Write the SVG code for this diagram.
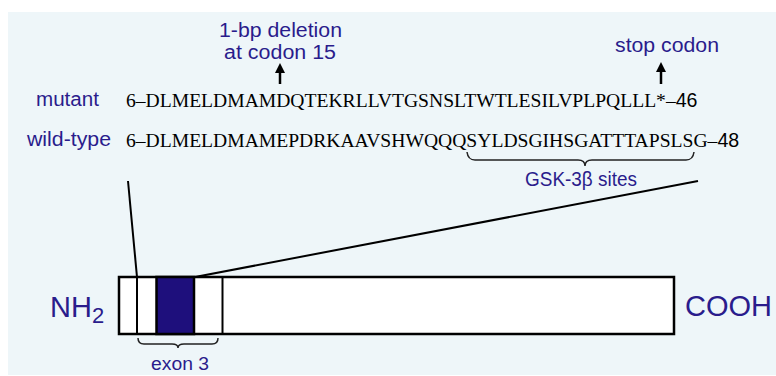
<svg xmlns="http://www.w3.org/2000/svg" width="776" height="376" viewBox="0 0 776 376">
<defs>
<marker id="ah" viewBox="0 0 10 10" refX="5" refY="5" markerWidth="10" markerHeight="10" markerUnits="userSpaceOnUse" orient="auto">
<path d="M0,0 L10,5 L0,10 Z" fill="#000"/>
</marker>
<style>
.lbl{font-family:"Liberation Sans",Arial,sans-serif;fill:#2a1c8c;}
.seq{font-family:"Liberation Serif","Times New Roman",serif;fill:#000;font-size:19.6px;}
.num{font-family:"Liberation Sans",Arial,sans-serif;}
.ln{stroke:#000;fill:none;stroke-width:2;}
.br{stroke:#222;fill:none;stroke-width:1.5;}
</style>
</defs>
<rect x="8" y="12" width="768" height="363" fill="#eef6f9"/>

<g id="labels">
<text class="lbl" x="280.5" y="37" font-size="20" text-anchor="middle" textLength="123" lengthAdjust="spacingAndGlyphs">1-bp deletion</text>
<text class="lbl" x="280" y="59" font-size="20" text-anchor="middle" textLength="112" lengthAdjust="spacingAndGlyphs">at codon 15</text>
<text class="lbl" x="667" y="52" font-size="20" text-anchor="middle" textLength="104" lengthAdjust="spacingAndGlyphs">stop codon</text>
<text class="lbl" x="36" y="106" font-size="20" textLength="63" lengthAdjust="spacingAndGlyphs">mutant</text>
<text class="lbl" x="27" y="146" font-size="20" textLength="84" lengthAdjust="spacingAndGlyphs">wild-type</text>
<text class="lbl" x="581" y="186" font-size="20" text-anchor="middle" textLength="112" lengthAdjust="spacingAndGlyphs">GSK-3β sites</text>
<text class="lbl" x="180" y="370" font-size="18" text-anchor="middle" textLength="58" lengthAdjust="spacingAndGlyphs">exon 3</text>
<text class="lbl" x="50" y="317" font-size="29">NH<tspan font-size="22" dy="6">2</tspan></text>
<text class="lbl" x="685" y="316" font-size="29">COOH</text>
</g>

<g id="mutant-seq">
<text class="seq" x="126" y="107">6–DLMELDMAMDQTEKRLLVTGSNSLTWTLESILVPLPQLLL*–<tspan class="num">46</tspan></text>
</g>
<g id="wildtype-seq">
<text class="seq" x="126" y="147">6–DLMELDMAMEPDRKAAVSHWQQQSYLDSGIHSGATTTAPSLSG–<tspan class="num">48</tspan></text>
</g>

<g id="protein">
<rect x="119" y="277" width="555" height="57" fill="#fff" stroke="#000" stroke-width="2.5"/>
<rect x="156.5" y="277" width="37.5" height="57" fill="#1e0f7c" stroke="#000" stroke-width="2.5"/>
<line class="ln" x1="137" y1="277" x2="137" y2="334"/>
<line class="ln" x1="222.5" y1="277" x2="222.5" y2="334"/>
</g>

<g id="connectors">
<line x1="280" y1="84" x2="280" y2="68" stroke="#000" stroke-width="2.5" marker-end="url(#ah)"/>
<line x1="661" y1="84" x2="661" y2="67" stroke="#000" stroke-width="2.5" marker-end="url(#ah)"/>
<line class="ln" x1="128" y1="181" x2="137" y2="277"/>
<line class="ln" x1="195" y1="277" x2="698" y2="181"/>
<path class="br" d="M467,152 q1,8 8,8 L578,160 q7,0 7,6 q0,-6 7,-6 L686,160 q7,0 8,-8"/>
<path class="br" d="M138,338 q0,6 6,6 L172,344 q6,0 6,4 q0,-4 6,-4 L212,344 q6,0 6,-6"/>
</g>
</svg>
